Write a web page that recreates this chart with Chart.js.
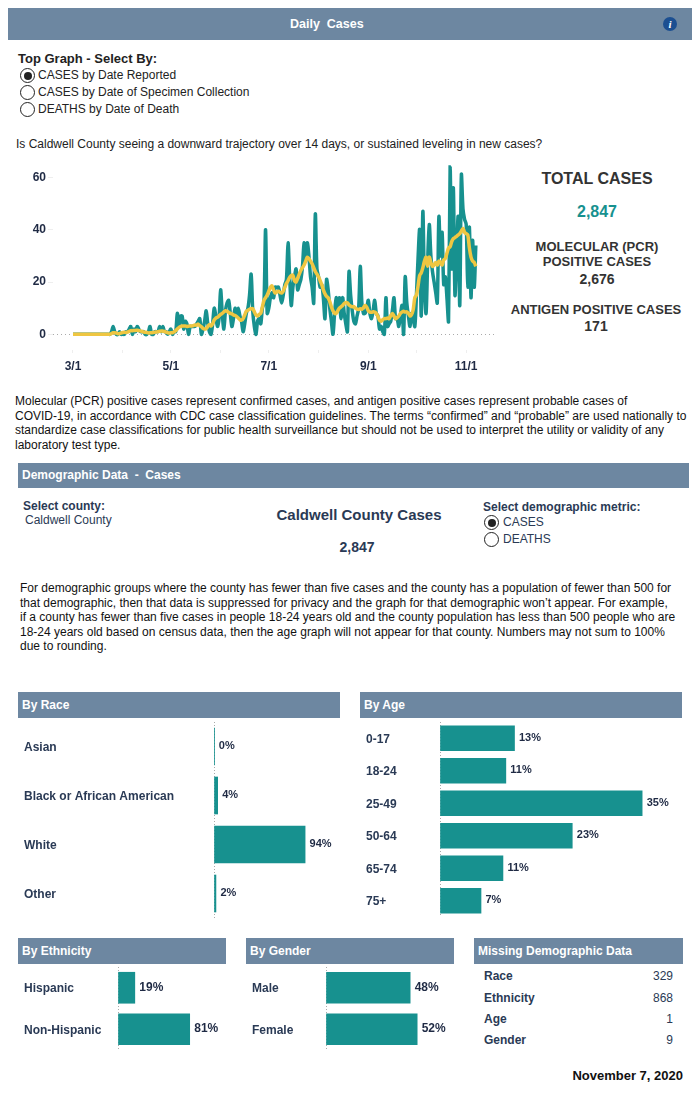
<!DOCTYPE html>
<html>
<head>
<meta charset="utf-8">
<title>Daily Cases</title>
<script src="https://cdn.jsdelivr.net/npm/chart.js@4"></script>
<style>
  html, body { margin: 0; padding: 0; background: #fff; }
  body { width: 699px; height: 1099px; position: relative; overflow: hidden; font-family: "Liberation Sans", Arial, sans-serif; font-size: 12px; color: #222; }
  .t { position: absolute; white-space: nowrap; line-height: 14px; }
  .b { font-weight: bold; }
  .navy { color: #2a3a55; }
  .mid { transform: translateX(-50%); text-align: center; }
  .bar { position: absolute; background: #6d87a1; color: #fff; font-weight: bold; line-height: 26px; padding-left: 4px; box-sizing: border-box; }
  .radio { position: absolute; width: 13px; height: 13px; border: 1px solid #222; border-radius: 50%; background: #fff; }
  .radio.on::after { content: ""; position: absolute; left: 2.5px; top: 2.5px; width: 8px; height: 8px; border-radius: 50%; background: #222; }
  canvas { position: absolute; }
  .info { position: absolute; left: 663px; top: 17px; width: 14px; height: 14px; border-radius: 50%; background: #1c4f91; color: #fff; font: italic bold 11px/14px "Liberation Serif", serif; text-align: center; }
  .para { position: absolute; line-height: 14.5px; white-space: nowrap; color: #111; }
</style>
</head>
<body>

<div class="bar" style="left:8px;top:8px;width:684px;height:32px;line-height:32px;padding:0;">
  <span style="position:absolute;left:282px;font-size:12.5px;white-space:pre;">Daily  Cases</span>
</div>
<div class="info">i</div>

<div class="t b" style="left:18px;top:52px;font-size:13px;">Top Graph - Select By:</div>
<div class="radio on" style="left:20px;top:68px;"></div>
<div class="t" style="left:38px;top:68px;">CASES by Date Reported</div>
<div class="radio" style="left:20px;top:85px;"></div>
<div class="t" style="left:38px;top:85px;">CASES by Date of Specimen Collection</div>
<div class="radio" style="left:20px;top:102px;"></div>
<div class="t" style="left:38px;top:102px;">DEATHS by Date of Death</div>

<div class="t" style="left:16px;top:137px;">Is Caldwell County seeing a downward trajectory over 14 days, or sustained leveling in new cases?</div>

<canvas id="dailyChart" width="497" height="215" style="left:0;top:160px;"></canvas>

<div class="t b mid" style="left:597px;top:172px;font-size:16px;color:#333;">TOTAL CASES</div>
<div class="t b mid" style="left:597px;top:205px;font-size:16px;color:#17918f;">2,847</div>
<div class="t b mid" style="left:597px;top:240px;font-size:13px;color:#333;">MOLECULAR (PCR)</div>
<div class="t b mid" style="left:597px;top:255px;font-size:13px;color:#333;">POSITIVE CASES</div>
<div class="t b mid" style="left:597px;top:272px;font-size:14px;color:#333;">2,676</div>
<div class="t b mid" style="left:596px;top:303px;font-size:13px;color:#333;">ANTIGEN POSITIVE CASES</div>
<div class="t b mid" style="left:596px;top:319px;font-size:14px;color:#333;">171</div>

<div class="para" style="left:15px;top:394px;">Molecular (PCR) positive cases represent confirmed cases, and antigen positive cases represent probable cases of<br>COVID-19, in accordance with CDC case classification guidelines. The terms “confirmed” and “probable” are used nationally to<br>standardize case classifications for public health surveillance but should not be used to interpret the utility or validity of any<br>laboratory test type.</div>

<div class="bar" style="left:18px;top:463px;width:671px;height:25px;line-height:25px;white-space:pre;">Demographic Data  -  Cases</div>

<div class="t b navy" style="left:23px;top:499px;">Select county:</div>
<div class="t navy" style="left:25px;top:513px;">Caldwell County</div>
<div class="t b mid navy" style="left:359px;top:508px;font-size:15px;">Caldwell County Cases</div>
<div class="t b mid navy" style="left:357px;top:540px;font-size:14px;">2,847</div>
<div class="t b navy" style="left:483px;top:500px;">Select demographic metric:</div>
<div class="radio on" style="left:484px;top:515px;"></div>
<div class="t navy" style="left:503px;top:515px;">CASES</div>
<div class="radio" style="left:484px;top:532px;"></div>
<div class="t navy" style="left:503px;top:532px;">DEATHS</div>

<div class="para" style="left:20px;top:581px;">For demographic groups where the county has fewer than five cases and the county has a population of fewer than 500 for<br>that demographic, then that data is suppressed for privacy and the graph for that demographic won’t appear. For example,<br>if a county has fewer than five cases in people 18-24 years old and the county population has less than 500 people who are<br>18-24 years old based on census data, then the age graph will not appear for that county. Numbers may not sum to 100%<br>due to rounding.</div>

<div class="bar" style="left:18px;top:692px;width:322px;height:26px;">By Race</div>
<div class="bar" style="left:360px;top:692px;width:322px;height:26px;">By Age</div>
<div class="bar" style="left:18px;top:938px;width:208px;height:26px;">By Ethnicity</div>
<div class="bar" style="left:246px;top:938px;width:208px;height:26px;">By Gender</div>
<div class="bar" style="left:474px;top:938px;width:209px;height:26px;">Missing Demographic Data</div>

<canvas id="raceChart" width="316" height="196" style="left:24px;top:722px;"></canvas>
<canvas id="ageChart" width="316" height="195" style="left:366px;top:722px;"></canvas>
<canvas id="ethnicityChart" width="202" height="83" style="left:24px;top:967px;"></canvas>
<canvas id="genderChart" width="202" height="83" style="left:252px;top:967px;"></canvas>

<div id="missing"></div>

<div class="t b" style="right:16px;top:1069px;font-size:13px;color:#111;">November 7, 2020</div>

<script>
// daily new cases by month
const casesMar = [0,0,0,0,0,0,0,0,0,0,0,0,0,0,0,0,0,0,0,0,0,0,0,0,1,3,1,0,0,1,0];
const casesApr = [0,0,1,1,2,3,0,2,1,3,2,1,1,1,0,0,1,3,0,0,1,1,1,3,1,3,1,1,0,1];
const casesMay = [2,0,1,1,8,3,7,7,2,5,4,0,3,3,3,3,4,5,6,0,2,5,9,4,1,0,4,10,7,3,6];
const casesJun = [17,8,2,9,12,13,8,3,6,10,7,10,7,5,1,4,8,10,15,23,9,3,0,5,6,4,10,12,40,8];
const casesJul = [10,14,16,14,18,18,18,15,12,15,19,21,35,22,11,18,22,25,17,19,21,26,35,28,35,30,22,18,12,46,25];
const casesAug = [22,18,19,14,6,21,17,10,5,0,8,14,9,14,6,14,8,4,1,24,15,9,5,4,7,10,26,12,8,8,10];
const casesSep = [13,8,6,9,13,8,7,2,3,1,0,14,3,4,5,9,14,6,6,3,7,11,0,22,12,7,3,8,6,3];
const casesOct = [15,29,40,7,47,18,8,28,42,30,24,20,16,12,45,30,39,19,22,14,5,64,25,56,15,30,45,11,61,48,44];
const casesNov = [42,18,41,14,36,18,34];

// 7 day average line, also
const avgMar = [0,0,0,0,0,0,0,0,0,0,0,0,0,0,0,0,0,0,0,0,0,0,0,0,0.3,0.6,0.6,0.5,0.2,0.3,0.5];
const avgApr = [0.7,0.8,0.7,0.9,1.1,1.4,1.4,1.5,1.5,1.6,1.4,1.3,1.1,0.9,0.8,0.7,0.5,0.6,0.6,0.7,0.8,0.9,1.0,1.2,1.3,1.2,1.1,0.8,0.6,0.5];
const avgMay = [0.6,0.6,1.0,1.4,2.0,2.6,3.0,3.2,3.2,3.2,3.0,3.1,3.2,3.2,3.3,3.6,3.5,3.9,3.3,2.9,2.3,2.0,2.2,3.0,3.8,3.2,4.0,5.5,6.2,6.5,7.0];
const avgJun = [7.6,8.0,8.6,9.0,8.8,8.4,8.0,7.8,7.4,7.2,6.8,6.2,5.6,5.4,6.0,7.4,8.8,9.2,9.6,9.8,9.8,8.6,7.4,7.0,7.6,8.0,10.5,13.0,14.0,15.0];
const avgJul = [16.5,18.0,18.5,17.0,15.8,16.2,16.5,16.0,15.8,16.5,18.0,19.5,20.5,21.8,22.5,22.5,20.5,20.0,21.5,23.0,24.5,25.5,26.5,28.0,29.5,29.0,28.0,27.0,25.5,24.0,23.0];
const avgAug = [22.0,20.5,19.0,17.0,15.5,14.5,14.0,12.5,10.5,9.0,8.0,8.0,9.0,10.0,10.5,11.0,11.8,12.2,12.0,11.2,10.8,10.5,10.6,10.0,9.6,9.5,9.8,9.6,10.2,11.0,10.4];
const avgSep = [9.0,8.5,8.4,8.6,8.5,8.0,6.8,5.4,5.0,5.6,6.0,6.0,6.2,6.0,7.2,8.0,7.0,6.0,6.4,7.0,8.0,8.5,8.8,8.5,8.6,8.0,7.0,7.6,9.5,14.0];
const avgOct = [15.0,18.5,22.5,23.5,25.5,28.0,29.5,26.0,29.5,27.5,26.0,26.5,27.5,26.5,28.0,27.5,26.5,28.5,29.0,31.0,33.0,33.5,35.5,36.6,37.0,37.5,38.0,38.5,39.5,40.5,39.0];
const avgNov = [38.5,38.0,33.0,29.5,28.0,27.5,26.0];

const dailyCases = [].concat(casesMar, casesApr, casesMay, casesJun, casesJul, casesAug, casesSep, casesOct, casesNov);
const dailyAvg = [].concat(avgMar, avgApr, avgMay, avgJun, avgJul, avgAug, avgSep, avgOct, avgNov);

// month starts as day numbers from 3/1, only every other one gets a label
const monthDays = [0, 31, 61, 92, 122, 153, 184, 214, 245];
const monthLabels = ["3/1", "", "5/1", "", "7/1", "", "9/1", "", "11/1"];
const yTicks = [0, 20, 40, 60];

const raceLabels = ["Asian", "Black or African American", "White", "Other"];
const raceValues = [0.3, 3.8, 94, 2];
const ageLabels = ["0-17", "18-24", "25-49", "50-64", "65-74", "75+"];
const ageValues = [12.9, 11.4, 35, 22.9, 10.9, 7.1];
const ethnicityLabels = ["Hispanic", "Non-Hispanic"];
const ethnicityValues = [19, 81];
const genderLabels = ["Male", "Female"];
const genderValues = [48, 52];

const missingLabels = ["Race", "Ethnicity", "Age", "Gender"];
const missingValues = ["329", "868", "1", "9"];
const missingTops = [969, 991, 1012, 1033];

const TEAL = "#17918f";
const YELLOW = "#efc641";
const INK = "#1f2a44";
const FONT = '"Liberation Sans", Arial, sans-serif';

// missing table
const missingBox = document.getElementById("missing");
missingLabels.forEach((name, i) => {
  missingBox.insertAdjacentHTML("beforeend",
    `<div class="t b navy" style="left:484px;top:${missingTops[i]}px;">${name}</div>` +
    `<div class="t navy" style="right:26px;top:${missingTops[i]}px;">${missingValues[i]}</div>`);
});

// top line chart
new Chart(document.getElementById("dailyChart"), {
  type: "line",
  data: {
    datasets: [
      { data: dailyAvg.map((v, i) => ({ x: i, y: v })), borderColor: YELLOW, borderWidth: 3.5, clip: 6, order: 0 },
      { data: dailyCases.map((v, i) => ({ x: i, y: v })), borderColor: TEAL, borderWidth: 3.5, clip: 6, order: 1 },
    ],
  },
  options: {
    responsive: false,
    animation: false,
    layout: { padding: { top: 7 } },
    elements: { point: { radius: 0 }, line: { tension: 0.3 } },
    plugins: { legend: { display: false }, tooltip: { enabled: false } },
    scales: {
      x: {
        type: "linear",
        min: -12.46,
        max: 264.2,
        afterBuildTicks: (axis) => { axis.ticks = monthDays.map((d) => ({ value: d })); },
        afterFit: (axis) => { axis.height = 25; },
        border: { display: false },
        grid: { drawOnChartArea: false, tickLength: 3, tickColor: "#eeeeee" },
        ticks: {
          autoSkip: false,
          maxRotation: 0,
          padding: 6,
          color: INK,
          font: { family: FONT, size: 12, weight: "bold" },
          callback: (v) => monthLabels[monthDays.indexOf(v)],
        },
      },
      y: {
        min: -6,
        max: 64,
        afterBuildTicks: (axis) => { axis.ticks = yTicks.map((v) => ({ value: v })); },
        afterFit: (axis) => { axis.width = 53; axis.paddingTop = 0; axis.paddingBottom = 0; },
        border: { display: false, dash: [1, 3] },
        grid: {
          tickLength: 5,
          tickColor: "#eeeeee",
          color: (ctx) => (ctx.tick && ctx.tick.value === 0 ? "#aaaaaa" : "rgba(0,0,0,0)"),
        },
        ticks: {
          padding: 2,
          color: INK,
          font: { family: FONT, size: 12, weight: "bold" },
        },
      },
    },
  },
});

// percent text at the end of each bar
const barValueLabels = {
  id: "barValueLabels",
  afterDatasetsDraw(chart, args, opts) {
    const { ctx } = chart;
    const meta = chart.getDatasetMeta(0);
    ctx.save();
    ctx.font = `bold ${opts.size}px ${FONT}`;
    ctx.fillStyle = INK;
    ctx.textBaseline = "middle";
    meta.data.forEach((bar, i) => {
      const value = chart.data.datasets[0].data[i];
      ctx.fillText(Math.round(value) + "%", bar.x + 4.5, bar.y - 0.5);
    });
    ctx.restore();
  },
};

const makeBars = (id, labels, values, axisWidth, xMax, thickness, labelSize) => {
  new Chart(document.getElementById(id), {
    type: "bar",
    data: {
      labels: labels,
      datasets: [{ data: values, backgroundColor: TEAL, barThickness: thickness }],
    },
    plugins: [barValueLabels],
    options: {
      indexAxis: "y",
      responsive: false,
      animation: false,
      plugins: { legend: { display: false }, tooltip: { enabled: false }, barValueLabels: { size: labelSize } },
      scales: {
        x: {
          min: 0,
          max: xMax,
          // only the dotted line at zero is left of this axis
          afterFit: (axis) => { axis.height = 0; axis.paddingLeft = 0; axis.paddingRight = 0; },
          border: { display: false, dash: [1, 2] },
          grid: {
            drawTicks: false,
            color: (ctx) => (ctx.tick && ctx.tick.value === 0 ? "#aaaaaa" : "rgba(0,0,0,0)"),
          },
          ticks: { display: false },
        },
        y: {
          afterFit: (axis) => { axis.width = axisWidth; axis.paddingTop = 0; axis.paddingBottom = 0; },
          border: { display: false },
          grid: { display: false, drawTicks: false },
          ticks: {
            crossAlign: "far",
            padding: 0,
            labelOffset: 1,
            color: "#2a3a55",
            font: { family: FONT, size: 12, weight: "bold" },
          },
        },
      },
    },
  });
};

makeBars("raceChart", raceLabels, raceValues, 190, 130, 37, 11);
makeBars("ageChart", ageLabels, ageValues, 74, 41.9, 25, 11);
makeBars("ethnicityChart", ethnicityLabels, ethnicityValues, 94, 122, 31, 12);
makeBars("genderChart", genderLabels, genderValues, 74, 73, 31, 12);
</script>
</body>
</html>
